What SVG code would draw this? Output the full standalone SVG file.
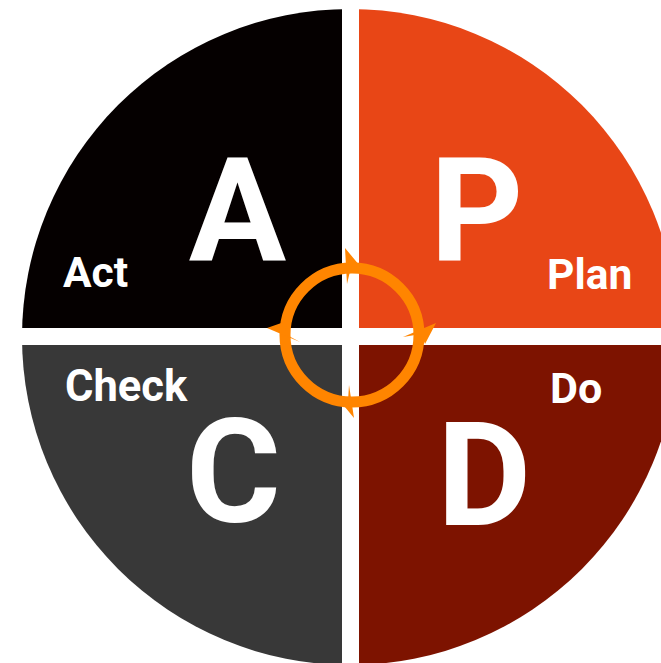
<svg xmlns="http://www.w3.org/2000/svg" width="661" height="663" viewBox="0 0 661 663">
  <style>
    .big { font-family: Roboto, "Liberation Sans", sans-serif; font-weight: 700; font-size: 145px; fill: #ffffff; }
    .lbl { font-family: Roboto, "Liberation Sans", sans-serif; font-weight: 700; font-size: 42.5px; fill: #ffffff; }
    .ring { fill: none; stroke: #FF8500; stroke-width: 11; }
    .head { fill: #FF8500; }
  </style>
  <defs>
    <clipPath id="disc">
      <circle cx="350" cy="337" r="328"/>
    </clipPath>
  </defs>
  <rect width="661" height="663" fill="#ffffff"/>
  <g clip-path="url(#disc)">
    <g id="act">
      <rect x="0" y="0" width="342" height="328" fill="#050000"/>
      <text class="big" x="237.5" y="261" text-anchor="middle">A</text>
      <text class="lbl" x="63" y="287">Act</text>
    </g>
    <g id="plan">
      <rect x="359" y="0" width="302" height="328" fill="#E84616"/>
      <text class="big" x="430" y="261">P</text>
      <text class="lbl" x="547" y="289">Plan</text>
    </g>
    <g id="check">
      <rect x="0" y="345" width="342" height="318" fill="#383838"/>
      <text class="lbl" x="65" y="401" style="font-size:43.5px">Check</text>
      <text class="big" x="186" y="522">C</text>
    </g>
    <g id="do">
      <rect x="359" y="345" width="302" height="318" fill="#7D1300"/>
      <text class="lbl" x="550" y="403" style="font-size:43px">Do</text>
      <text class="big" x="437" y="525">D</text>
    </g>
  </g>
  <g id="connectors">
    <circle class="ring" cx="352" cy="335" r="67"/>
    <polygon class="head" points="345,248 360,266 351,267 347,284"/>
    <polygon class="head" points="436,323 425,344 421,334 403,337"/>
    <polygon class="head" points="354,418 340,401 348,401 349,385"/>
    <polygon class="head" points="267,328 287,321 285,334 300,342"/>
  </g>
</svg>
